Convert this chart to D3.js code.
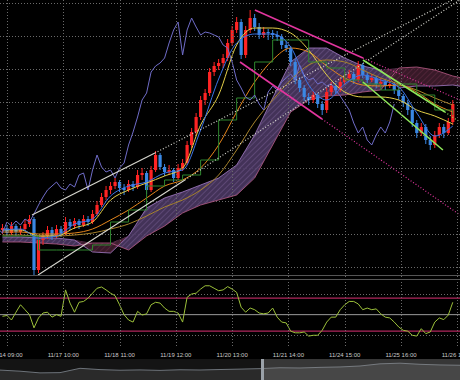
<!DOCTYPE html>
<html>
<head>
<meta charset="UTF-8">
<title>USD/JPY 2H chart</title>
<script src="https://d3js.org/d3.v7.min.js"></script>
<style>
    body { margin: 0; background: #000; }
    svg { display: block; }
    .time-label {
        font-family: "Liberation Sans", Arial, sans-serif;
        font-size: 6px;
        fill: #c8c8c8;
        text-anchor: middle;
    }
</style>
</head>
<body>
<svg width="460" height="380"></svg>
<script>

// bars are 2 hours wide, first bar at hour -2 (hour 0 = 11/14 09:00)
var barStartHour = -2;
var barHours = 2;

// [open, high, low, close]
var candles = [
    [116.30, 116.36, 116.26, 116.32], [116.32, 116.35, 116.24, 116.27], [116.27, 116.38, 116.25, 116.34],
    [116.34, 116.36, 116.24, 116.28], [116.28, 116.34, 116.25, 116.31], [116.31, 116.40, 116.29, 116.36],
    [116.36, 116.45, 116.33, 116.41], [116.41, 116.43, 115.85, 115.90], [115.90, 116.24, 115.87, 116.20],
    [116.20, 116.28, 116.15, 116.24], [116.24, 116.34, 116.21, 116.30], [116.30, 116.33, 116.20, 116.24],
    [116.24, 116.35, 116.22, 116.31], [116.31, 116.34, 116.23, 116.27], [116.27, 116.43, 116.25, 116.38],
    [116.38, 116.41, 116.30, 116.34], [116.34, 116.42, 116.31, 116.39], [116.39, 116.41, 116.31, 116.35],
    [116.35, 116.45, 116.33, 116.41], [116.41, 116.44, 116.34, 116.38], [116.38, 116.50, 116.36, 116.46],
    [116.46, 116.59, 116.44, 116.55], [116.55, 116.67, 116.53, 116.63], [116.63, 116.74, 116.60, 116.70],
    [116.70, 116.78, 116.66, 116.74], [116.74, 116.82, 116.71, 116.78], [116.78, 116.80, 116.68, 116.72],
    [116.72, 116.76, 116.65, 116.70], [116.70, 116.80, 116.68, 116.76], [116.76, 116.79, 116.69, 116.73],
    [116.73, 116.90, 116.71, 116.85], [116.85, 116.92, 116.80, 116.87], [116.87, 116.89, 116.66, 116.70],
    [116.70, 116.94, 116.68, 116.90], [116.90, 117.09, 116.88, 117.05], [117.05, 117.07, 116.90, 116.93],
    [116.93, 116.96, 116.84, 116.88], [116.88, 116.95, 116.85, 116.90], [116.90, 116.92, 116.78, 116.82],
    [116.82, 116.96, 116.80, 116.92], [116.92, 117.01, 116.89, 116.97], [116.97, 117.19, 116.95, 117.15],
    [117.15, 117.32, 117.12, 117.28], [117.28, 117.47, 117.25, 117.43], [117.43, 117.64, 117.40, 117.60],
    [117.60, 117.71, 117.55, 117.67], [117.67, 117.92, 117.64, 117.88], [117.88, 117.98, 117.84, 117.94],
    [117.94, 118.01, 117.90, 117.97], [117.97, 118.06, 117.92, 118.02], [118.02, 118.21, 117.99, 118.17],
    [118.17, 118.34, 118.14, 118.30], [118.30, 118.43, 118.27, 118.38], [118.38, 118.41, 118.01, 118.05],
    [118.05, 118.34, 118.02, 118.30], [118.30, 118.50, 118.27, 118.42], [118.42, 118.46, 118.29, 118.33],
    [118.33, 118.37, 118.21, 118.25], [118.25, 118.33, 118.22, 118.28], [118.28, 118.31, 118.20, 118.27],
    [118.27, 118.30, 118.21, 118.25], [118.25, 118.29, 118.19, 118.23], [118.23, 118.26, 118.11, 118.15],
    [118.15, 118.19, 118.08, 118.12], [118.12, 118.14, 117.94, 117.98], [117.98, 118.01, 117.76, 117.80],
    [117.80, 117.83, 117.68, 117.72], [117.72, 117.75, 117.59, 117.63], [117.63, 117.67, 117.55, 117.60],
    [117.60, 117.69, 117.57, 117.65], [117.65, 117.67, 117.52, 117.56], [117.56, 117.59, 117.45, 117.50],
    [117.50, 117.72, 117.47, 117.68], [117.68, 117.78, 117.65, 117.74], [117.74, 117.77, 117.66, 117.70],
    [117.70, 117.82, 117.68, 117.78], [117.78, 117.86, 117.75, 117.82], [117.82, 117.90, 117.79, 117.86],
    [117.86, 117.88, 117.76, 117.80], [117.80, 117.99, 117.78, 117.95], [117.95, 117.97, 117.82, 117.85],
    [117.85, 117.88, 117.77, 117.80], [117.80, 117.86, 117.78, 117.82], [117.82, 117.84, 117.72, 117.76],
    [117.76, 117.82, 117.74, 117.78], [117.78, 117.80, 117.70, 117.74], [117.74, 117.80, 117.72, 117.76],
    [117.76, 117.78, 117.66, 117.70], [117.70, 117.72, 117.60, 117.64], [117.64, 117.66, 117.53, 117.57],
    [117.57, 117.60, 117.45, 117.50], [117.50, 117.53, 117.33, 117.37], [117.37, 117.40, 117.22, 117.27],
    [117.27, 117.37, 117.24, 117.33], [117.33, 117.36, 117.16, 117.20], [117.20, 117.24, 117.10, 117.15],
    [117.15, 117.29, 117.12, 117.25], [117.25, 117.37, 117.22, 117.33], [117.33, 117.36, 117.22, 117.27],
    [117.27, 117.42, 117.25, 117.38], [117.38, 117.60, 117.35, 117.56]
];

var labelHours = [0, 25, 50, 75, 100, 125, 150, 175, 200];
var timeLabels = ["11/14 09:00", "11/17 10:00", "11/18 11:00", "11/19 12:00", "11/20 13:00",
                  "11/21 14:00", "11/24 15:00", "11/25 16:00", "11/26 17:00"];

// moving averages, read every 4 bars
var maBars = [0, 4, 8, 12, 16, 20, 24, 28, 32, 36, 40, 44, 48, 52, 56, 60, 64, 68, 72, 76, 80, 84, 88, 92, 96, 100];
var maFast = [116.30, 116.31, 116.22, 116.24, 116.36, 116.41, 116.64, 116.74, 116.78, 116.87, 116.90, 117.30, 117.81,
              118.17, 118.26, 118.26, 118.13, 117.75, 117.60, 117.76, 117.85, 117.80, 117.73, 117.47, 117.24, 117.34];
var maMid = [116.30, 116.30, 116.24, 116.24, 116.32, 116.38, 116.60, 116.70, 116.77, 116.84, 116.92, 117.35, 117.65,
             118.15, 118.32, 118.32, 118.27, 118.10, 117.85, 117.68, 117.63, 117.63, 117.60, 117.50, 117.44, 117.36];
var maSlow = [116.28, 116.28, 116.26, 116.26, 116.27, 116.31, 116.40, 116.50, 116.62, 116.74, 116.80, 116.92, 117.15,
              117.48, 117.78, 118.00, 118.12, 118.08, 117.94, 117.82, 117.75, 117.74, 117.75, 117.68, 117.56, 117.48];
var maLong = [116.25, 116.25, 116.24, 116.24, 116.25, 116.27, 116.31, 116.36, 116.44, 116.53, 116.60, 116.70, 116.85,
              117.10, 117.38, 117.60, 117.80, 117.95, 118.00, 117.98, 117.90, 117.82, 117.76, 117.70, 117.62, 117.55];
var kijun = [116.24, 116.24, 116.10, 116.10, 116.10, 116.15, 116.38, 116.50, 116.74, 116.80, 116.85, 117.00, 117.40,
             117.62, 117.98, 118.20, 118.20, 117.98, 117.92, 117.80, 117.76, 117.70, 117.76, 117.65, 117.50, 117.45];

// ichimoku cloud (already shifted forward), read every 4 bars
var cloudBars = [0, 4, 8, 12, 16, 20, 24, 28, 32, 36, 40, 44, 48, 52, 56, 60, 64, 68, 72, 76, 80, 84, 88, 92, 96, 100, 104];
var spanA = [116.23, 116.23, 116.22, 116.22, 116.20, 116.08, 116.07, 116.24, 116.52, 116.62, 116.68, 116.75, 116.82, 116.95,
             117.25, 117.62, 117.98, 118.12, 118.12, 118.02, 117.94, 117.90, 117.72, 117.74, 117.74, 117.75, 117.72];
var spanB = [116.18, 116.18, 116.17, 116.16, 116.14, 116.17, 116.17, 116.10, 116.24, 116.34, 116.47, 116.55, 116.60, 116.65,
             116.82, 117.15, 117.48, 117.60, 117.64, 117.65, 117.68, 117.70, 117.92, 117.93, 117.90, 117.84, 117.80];
var laggingShiftHours = 26;

// trend channels: [hour, price] start, end of solid part, end of dotted part
var whiteUpper = [[11.1, 116.45], [65.7, 117.07], [201.2, 118.64]];
var whiteLower = [[13.8, 115.85], [79.0, 116.80], [201.2, 118.60]];
var pinkUpper = [[110.1, 118.50], [158.1, 118.02], [201.2, 117.60]];
var pinkLower = [[103.5, 117.98], [139.9, 117.41], [201.2, 116.45]];
var greenUpper = [[158.1, 118.00], [194.5, 117.48], [201.2, 117.38]];
var greenLower = [[158.1, 117.78], [193.6, 117.10], null];

// oscillator (RSI), one value per bar
var rsi = [48, 49, 43.5, 53, 62, 56, 50, 34, 46, 52, 53, 47, 50, 48, 80, 64, 53, 65, 66, 70,
           76, 82, 83.5, 80, 76, 73, 62, 50, 43.5, 41, 54, 49.5, 51, 62, 65, 64, 58, 54, 54, 52,
           41, 71, 75, 76, 81, 85, 85, 82, 79, 80, 84, 81, 77, 59, 53, 58, 56, 52, 51, 52,
           58, 47, 41, 40, 30, 28, 28, 29, 24, 25, 25, 31, 41, 47, 47, 56, 62, 66, 66, 63,
           56, 58, 56, 57, 51, 47, 46, 41, 35, 31, 30, 25, 24, 33, 27, 29, 41, 46, 44, 49.5, 65];
var rsiLevels = [70, 30];
var rsiMid = 50;

// navigator: longer history
var navValues = [112.4, 111.0, 108.9, 109.2, 114.6, 113.0, 112.2, 112.6, 112.0, 112.8, 112.5, 113.1,
                 113.6, 114.2, 115.3, 115.0, 115.8, 116.3, 117.5, 120.2, 121.0, 119.6, 118.8, 118.4];
var navWindowStart = 13.15;

var W = 460, H = 380;
var mainBottom = 275;

var svg = d3.select("svg");
var defs = svg.append("defs");

var x = d3.scaleLinear().domain([-3.1, 201.2]).range([0, W]);
var y = d3.scaleLinear().domain([115.83, 118.60]).range([277, 0]);
var yo = d3.scaleLinear().domain([12, 92]).range([346, 280]);

function barX(i) { return x(barStartHour + i * barHours); }

defs.append("clipPath").attr("id", "mainClip")
    .append("rect").attr("x", 0).attr("y", 0).attr("width", W).attr("height", mainBottom);
defs.append("clipPath").attr("id", "oscClip")
    .append("rect").attr("x", 0).attr("y", 280).attr("width", W).attr("height", 68);

// cloud hatching
function hatch(id, bg, fg) {
    var p = defs.append("pattern").attr("id", id)
        .attr("width", 4).attr("height", 4)
        .attr("patternUnits", "userSpaceOnUse")
        .attr("patternTransform", "rotate(45)");
    p.append("rect").attr("width", 4).attr("height", 4).attr("fill", bg);
    p.append("line").attr("x1", 0).attr("y1", 0).attr("x2", 0).attr("y2", 4)
        .attr("stroke", fg).attr("stroke-width", 1.2);
}
hatch("hatchUp", "#4a3862", "#7a5f96");
hatch("hatchDown", "#3e1c2c", "#6a2e48");

svg.append("rect").attr("width", W).attr("height", H).attr("fill", "#000");

var main = svg.append("g").attr("clip-path", "url(#mainClip)");
var osc = svg.append("g").attr("clip-path", "url(#oscClip)");

// grid
var gridPrices = d3.range(118.57, 115.85, -0.33);
main.selectAll(".hgrid").data(gridPrices).enter().append("line")
    .attr("x1", 0).attr("x2", W)
    .attr("y1", function(d) { return Math.round(y(d)) + 0.5; })
    .attr("y2", function(d) { return Math.round(y(d)) + 0.5; })
    .attr("stroke", "#6a6a6a").attr("stroke-dasharray", "1,2");

svg.selectAll(".vgrid").data(labelHours).enter().append("line")
    .attr("x1", function(d) { return Math.round(x(d)) + 0.5; })
    .attr("x2", function(d) { return Math.round(x(d)) + 0.5; })
    .attr("y1", 0).attr("y2", 348)
    .attr("stroke", "#6a6a6a").attr("stroke-dasharray", "1,2");

// cloud
var cloud = cloudBars.map(function(b, i) { return { b: b, a: spanA[i], s: spanB[i] }; });
main.append("path").datum(cloud)
    .attr("fill", "url(#hatchUp)").attr("opacity", 0.9)
    .attr("d", d3.area().x(function(d) { return barX(d.b); })
        .y0(function(d) { return y(d.s); })
        .y1(function(d) { return y(Math.max(d.a, d.s)); }));
main.append("path").datum(cloud)
    .attr("fill", "url(#hatchDown)").attr("opacity", 0.9)
    .attr("d", d3.area().x(function(d) { return barX(d.b); })
        .y0(function(d) { return y(d.a); })
        .y1(function(d) { return y(Math.max(d.a, d.s)); }));
main.append("path").datum(cloud).attr("fill", "none").attr("stroke", "#a57cc8").attr("stroke-width", 0.8)
    .attr("d", d3.line().x(function(d) { return barX(d.b); }).y(function(d) { return y(d.a); }));
main.append("path").datum(cloud).attr("fill", "none").attr("stroke", "#b85c86").attr("stroke-width", 0.8)
    .attr("d", d3.line().x(function(d) { return barX(d.b); }).y(function(d) { return y(d.s); }));

// candles
var bars = main.selectAll(".bar").data(candles).enter().append("g");
bars.append("line")
    .attr("x1", function(d, i) { return barX(i); })
    .attr("x2", function(d, i) { return barX(i); })
    .attr("y1", function(d) { return y(d[1]); })
    .attr("y2", function(d) { return y(d[2]); })
    .attr("stroke", function(d) { return d[3] >= d[0] ? "#ff2424" : "#3a88e4"; });
bars.append("rect")
    .attr("x", function(d, i) { return barX(i) - 1.6; })
    .attr("width", 3.2)
    .attr("y", function(d) { return y(Math.max(d[0], d[3])); })
    .attr("height", function(d) { return Math.max(1, Math.abs(y(d[0]) - y(d[3]))); })
    .attr("fill", function(d) { return d[3] >= d[0] ? "#ff2424" : "#3a88e4"; });

// moving averages
function maLine(values, color, curve) {
    main.append("path").datum(values)
        .attr("fill", "none").attr("stroke", color).attr("stroke-width", 1)
        .attr("d", d3.line().curve(curve)
            .x(function(d, i) { return barX(maBars[i]); })
            .y(function(d) { return y(d); }));
}
maLine(maLong, "#a8842c", d3.curveMonotoneX);
maLine(maSlow, "#e5861c", d3.curveMonotoneX);
maLine(maMid, "#e4cf48", d3.curveMonotoneX);
maLine(kijun, "#2e862e", d3.curveStepAfter);
maLine(maFast, "#3b74e6", d3.curveMonotoneX);

// lagging span: closes drawn 26 hours back
main.append("path").datum(candles)
    .attr("fill", "none").attr("stroke", "#6f6cc8").attr("stroke-width", 1)
    .attr("d", d3.line()
        .x(function(d, i) { return x(barStartHour + i * barHours - laggingShiftHours); })
        .y(function(d) { return y(d[3]); }));

// trend channels
function trend(pts, color, width) {
    main.append("line")
        .attr("x1", x(pts[0][0])).attr("y1", y(pts[0][1]))
        .attr("x2", x(pts[1][0])).attr("y2", y(pts[1][1]))
        .attr("stroke", color).attr("stroke-width", width);
    if (pts[2]) {
        main.append("line")
            .attr("x1", x(pts[1][0])).attr("y1", y(pts[1][1]))
            .attr("x2", x(pts[2][0])).attr("y2", y(pts[2][1]))
            .attr("stroke", color).attr("stroke-width", 1.2)
            .attr("stroke-dasharray", "1,2");
    }
}
trend(whiteUpper, "#d8d8d0", 1.1);
trend(whiteLower, "#d8d8d0", 1.1);
trend(pinkUpper, "#e2359e", 1.6);
trend(pinkLower, "#e2359e", 1.6);
trend(greenUpper, "#8ee65a", 1.6);
trend(greenLower, "#8ee65a", 1.6);

// panel borders
svg.append("line").attr("x1", 0).attr("x2", W).attr("y1", 275.5).attr("y2", 275.5).attr("stroke", "#555");
svg.append("line").attr("x1", 0).attr("x2", W).attr("y1", 279.5).attr("y2", 279.5).attr("stroke", "#555");

// oscillator panel
osc.selectAll(".ogrid").data([75, 25]).enter().append("line")
    .attr("x1", 0).attr("x2", W)
    .attr("y1", function(d) { return Math.round(yo(d)) + 0.5; })
    .attr("y2", function(d) { return Math.round(yo(d)) + 0.5; })
    .attr("stroke", "#6a6a6a").attr("stroke-dasharray", "1,2");
osc.selectAll(".level").data(rsiLevels).enter().append("line")
    .attr("x1", 0).attr("x2", W)
    .attr("y1", function(d) { return yo(d); })
    .attr("y2", function(d) { return yo(d); })
    .attr("stroke", "#b0275c").attr("stroke-width", 1.2);
osc.append("line").attr("x1", 0).attr("x2", W)
    .attr("y1", yo(rsiMid)).attr("y2", yo(rsiMid))
    .attr("stroke", "#9a9a9a").attr("stroke-width", 1);
osc.append("path").datum(rsi)
    .attr("fill", "none").attr("stroke", "#9cc03a").attr("stroke-width", 1)
    .attr("d", d3.line()
        .x(function(d, i) { return barX(i); })
        .y(function(d) { return yo(d); }));

// time labels (first and last run off the edges, as in the original)
svg.selectAll(".time-label").data(timeLabels).enter().append("text")
    .attr("class", "time-label")
    .attr("x", function(d, i) { return x(labelHours[i]); })
    .attr("y", 356.5)
    .text(function(d) { return d; });

// navigator
var nx = d3.scaleLinear().domain([0, navValues.length - 1]).range([0, W]);
var ny = d3.scaleLinear().domain([100, 125]).range([380, 360]);
svg.append("rect").attr("x", 0).attr("y", 359).attr("width", W).attr("height", 21).attr("fill", "#141414");
svg.append("path").datum(navValues)
    .attr("fill", "#2a2a2a")
    .attr("d", d3.area().x(function(d, i) { return nx(i); }).y0(380).y1(function(d) { return ny(d); }));
svg.append("path").datum(navValues)
    .attr("fill", "none").attr("stroke", "#6d737a").attr("stroke-width", 1)
    .attr("d", d3.line().x(function(d, i) { return nx(i); }).y(function(d) { return ny(d); }));
svg.append("rect").attr("x", nx(navWindowStart)).attr("y", 359)
    .attr("width", W - nx(navWindowStart)).attr("height", 21)
    .attr("fill", "#8a8a8a").attr("opacity", 0.3);
svg.append("rect").attr("x", nx(navWindowStart) - 2).attr("y", 359)
    .attr("width", 3).attr("height", 21).attr("fill", "#9aa1a8");

</script>
</body>
</html>
